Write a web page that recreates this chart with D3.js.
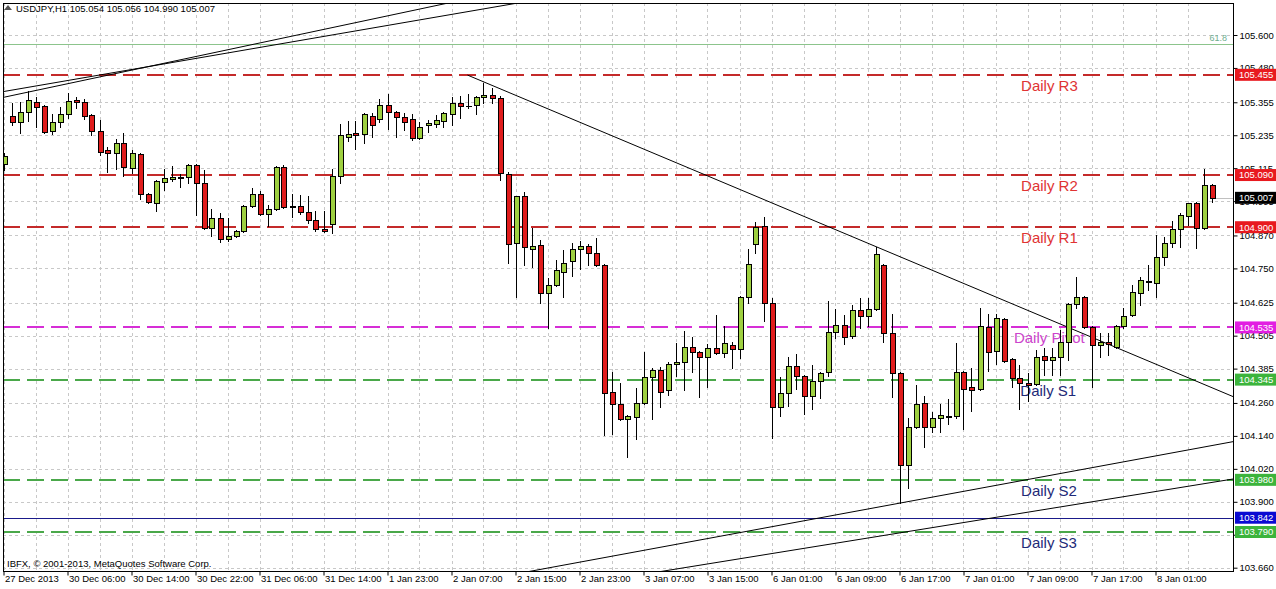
<!DOCTYPE html>
<html><head><meta charset="utf-8">
<script src="https://cdn.jsdelivr.net/npm/d3@7"></script>
<style>body{margin:0;background:#fff}svg{display:block}</style>
</head><body><svg id="c" width="1276" height="589"></svg>
<script>
// ---- data ----
const symbolTitle = "USDJPY,H1  105.054 105.056 104.990 105.007";
const copyright = "IBFX, \u00A9 2001-2013, MetaQuotes Software Corp.";
// [open, high, low, close] per hourly bar, bar 0 = 27 Dec 2013 22:00
const candles = [
[105.130,105.170,105.108,105.159],[105.305,105.352,105.272,105.283],[105.283,105.356,105.243,105.320],[105.320,105.396,105.287,105.363],
[105.356,105.374,105.265,105.338],[105.341,105.345,105.243,105.247],[105.251,105.312,105.240,105.283],[105.283,105.338,105.265,105.312],
[105.312,105.389,105.298,105.360],[105.363,105.374,105.334,105.356],[105.356,105.367,105.294,105.305],[105.309,105.312,105.236,105.251],
[105.251,105.291,105.163,105.174],[105.181,105.192,105.101,105.170],[105.170,105.221,105.112,105.207],[105.207,105.243,105.087,105.119],
[105.116,105.181,105.097,105.170],[105.167,105.170,105.003,105.021],[105.021,105.025,104.988,104.992],[104.988,105.072,104.959,105.068],
[105.065,105.112,105.036,105.079],[105.076,105.123,105.068,105.083],[105.083,105.094,105.046,105.081],[105.083,105.130,105.061,105.127],
[105.127,105.130,104.945,105.061],[105.061,105.108,104.894,104.897],[104.897,104.966,104.868,104.934],[104.934,104.952,104.846,104.857],
[104.857,104.934,104.850,104.868],[104.868,104.890,104.864,104.886],[104.886,104.981,104.882,104.977],[104.977,105.043,104.974,105.021],
[105.021,105.032,104.945,104.948],[104.948,104.981,104.904,104.966],[104.966,105.123,104.963,105.119],[105.119,105.127,104.970,104.974],
[104.977,105.021,104.937,104.975],[104.977,105.017,104.948,104.955],[104.955,105.014,104.915,104.926],[104.926,104.959,104.886,104.894],
[104.894,104.959,104.882,104.886],[104.912,105.112,104.879,105.087],[105.087,105.276,105.061,105.236],[105.229,105.287,105.214,105.240],
[105.243,105.287,105.185,105.236],[105.240,105.316,105.207,105.312],[105.305,105.316,105.229,105.272],[105.294,105.367,105.283,105.345],
[105.345,105.385,105.258,105.320],[105.320,105.322,105.229,105.301],[105.301,105.316,105.254,105.283],[105.294,105.312,105.218,105.225],
[105.225,105.283,105.221,105.265],[105.272,105.291,105.247,105.280],[105.276,105.309,105.265,105.291],[105.287,105.320,105.265,105.316],
[105.312,105.374,105.272,105.352],[105.352,105.378,105.298,105.341],[105.341,105.385,105.334,105.343],[105.345,105.378,105.312,105.374],
[105.374,105.425,105.352,105.381],[105.381,105.407,105.352,105.370],[105.370,105.378,105.072,105.097],[105.094,105.101,104.770,104.839],
[104.842,105.014,104.646,105.014],[105.014,105.028,104.762,104.828],[104.821,104.897,104.755,104.831],[104.835,104.853,104.624,104.660],
[104.660,104.715,104.533,104.690],[104.690,104.781,104.686,104.744],[104.737,104.817,104.646,104.770],[104.777,104.842,104.722,104.821],
[104.821,104.850,104.748,104.831],[104.831,104.839,104.762,104.806],[104.806,104.860,104.759,104.762],[104.762,104.766,104.143,104.296],
[104.300,104.373,104.147,104.256],[104.256,104.333,104.198,104.201],[104.201,104.216,104.063,104.212],[104.209,104.314,104.129,104.260],
[104.260,104.445,104.256,104.355],[104.355,104.387,104.201,104.380],[104.380,104.391,104.245,104.300],[104.307,104.409,104.289,104.402],
[104.402,104.478,104.358,104.409],[104.409,104.522,104.307,104.464],[104.464,104.500,104.373,104.445],[104.445,104.449,104.282,104.427],
[104.427,104.474,104.318,104.460],[104.460,104.580,104.438,104.442],[104.442,104.540,104.427,104.478],[104.471,104.482,104.387,104.456],
[104.456,104.650,104.424,104.646],[104.646,104.821,104.624,104.766],[104.839,104.919,104.806,104.901],[104.904,104.937,104.558,104.624],
[104.624,104.642,104.132,104.245],[104.245,104.355,104.212,104.296],[104.296,104.427,104.249,104.395],[104.395,104.438,104.311,104.358],
[104.358,104.362,104.220,104.285],[104.285,104.398,104.238,104.340],[104.340,104.373,104.278,104.369],[104.373,104.631,104.358,104.518],
[104.518,104.602,104.496,104.544],[104.544,104.580,104.474,104.500],[104.503,104.617,104.496,104.598],[104.598,104.642,104.533,104.577],
[104.577,104.642,104.540,104.602],[104.602,104.828,104.598,104.802],[104.762,104.766,104.482,104.514],[104.514,104.584,104.282,104.369],
[104.369,104.373,103.896,104.033],[104.033,104.205,103.950,104.172],[104.172,104.325,104.169,104.256],[104.260,104.285,104.100,104.172],
[104.172,104.227,104.154,104.205],[104.205,104.256,104.154,104.216],[104.209,104.274,104.183,104.212],[104.212,104.478,104.205,104.373],
[104.373,104.376,104.165,104.311],[104.318,104.387,104.230,104.307],[104.311,104.606,104.307,104.540],[104.536,104.584,104.376,104.445],
[104.449,104.584,104.402,104.569],[104.566,104.569,104.409,104.413],[104.420,104.424,104.318,104.351],[104.351,104.398,104.238,104.333],
[104.333,104.369,104.267,104.325],[104.329,104.453,104.325,104.427],[104.431,104.460,104.362,104.416],[104.416,104.460,104.362,104.427],
[104.427,104.526,104.362,104.482],[104.482,104.624,104.416,104.620],[104.620,104.719,104.606,104.646],[104.646,104.650,104.533,104.536],
[104.536,104.540,104.318,104.471],[104.471,104.514,104.427,104.482],[104.482,104.514,104.435,104.474],[104.464,104.544,104.460,104.540],
[104.540,104.606,104.533,104.577],[104.580,104.690,104.577,104.664],[104.660,104.719,104.617,104.708],[104.704,104.762,104.671,104.700],
[104.697,104.871,104.646,104.792],[104.792,104.864,104.762,104.842],[104.842,104.923,104.828,104.894],[104.894,104.952,104.828,104.945],
[104.941,104.988,104.908,104.988],[104.988,104.990,104.824,104.897],[104.897,105.112,104.894,105.054],[105.054,105.056,104.990,105.007]
];
const timeTickIndex = [0,8,16,24,32,40,48,56,64,72,80,88,96,104,112,120,128,136,144];
const timeTickLabels = ["27 Dec 2013","30 Dec 06:00","30 Dec 14:00","30 Dec 22:00","31 Dec 06:00","31 Dec 14:00","1 Jan 23:00","2 Jan 07:00","2 Jan 15:00","2 Jan 23:00","3 Jan 07:00","3 Jan 15:00","6 Jan 01:00","6 Jan 09:00","6 Jan 17:00","7 Jan 01:00","7 Jan 09:00","7 Jan 17:00","8 Jan 01:00"];
const priceTicks = [105.600,105.480,105.355,105.235,105.115,104.995,104.870,104.750,104.625,104.505,104.385,104.260,104.140,104.020,103.900,103.780,103.660];
const levelNames = ["Daily R3","Daily R2","Daily R1","Daily Pivot","Daily S1","Daily S2","Daily S3"];
const levelValues = [105.455,105.090,104.900,104.535,104.345,103.980,103.790];
const levelKinds = ["R","R","R","P","S","S","S"];
const levelTextBar = [127.2,127.2,127.2,126.3,127.1,127.2,127.2];
const blueLevel = 103.842;
const fiboLevel = 105.567, fiboLabel = "61.8";
const bidPrice = 105.007;
// trendlines: [barIndex, price] anchor pairs
const trendLines = [
  {a:[0,105.394], b:[60,105.695], from:-2, to:160},
  {a:[0,105.373], b:[50,105.682], from:-2, to:160},
  {a:[58,105.454], b:[109,104.830], from:58, to:160},
  {a:[112,103.895], b:[153.69,104.119], from:40, to:160},
  {a:[122.69,103.837], b:[153.69,103.983], from:40, to:160}
];

// ---- layout ----
const L=3, R=1233, T=3, B=571;
const svg = d3.select("#c");
const x = d3.scaleLinear().domain([0,151]).range([3.5,1211.5]);
const y = d3.scaleLinear().domain([105.6,103.66]).range([35,567.7]);
const FONT = "'Liberation Sans', Arial, sans-serif";
const col = {R:"#c42a2a", P:"#d62ed6", S:"#4aa84a"};
const boxCol = {R:"#e8191f", P:"#e21ee2", S:"#3cb43c"};
const txtCol = {R:"#e03333", P:"#cc44cc", S:"#1e2a78"};

svg.append("rect").attr("width",1276).attr("height",589).attr("fill","#fff");
svg.append("defs").append("clipPath").attr("id","pc").append("rect")
  .attr("x",L).attr("y",T).attr("width",R-L).attr("height",B-T);
const g = svg.append("g").attr("clip-path","url(#pc)");

// grid
const vg = d3.range(0,152,4);
g.selectAll(".vg").data(vg).join("line")
  .attr("x1",d=>Math.round(x(d))+0.5).attr("x2",d=>Math.round(x(d))+0.5)
  .attr("y1",T).attr("y2",B).attr("stroke","#c8c8c8").attr("stroke-dasharray","3,3");
g.selectAll(".hg").data(priceTicks).join("line")
  .attr("x1",L).attr("x2",R).attr("y1",d=>Math.round(y(d))+0.5).attr("y2",d=>Math.round(y(d))+0.5)
  .attr("stroke","#c8c8c8").attr("stroke-dasharray","3,3");

// fibo line
g.append("line").attr("x1",L).attr("x2",R).attr("y1",Math.round(y(fiboLevel))+0.5).attr("y2",Math.round(y(fiboLevel))+0.5)
  .attr("stroke","#8cc48c");
g.append("text").attr("x",1227).attr("y",y(fiboLevel)-3).attr("text-anchor","end")
  .attr("font-family",FONT).attr("font-size",9).attr("fill","#6fae90").text(fiboLabel);

// level lines
levelValues.forEach((v,i)=>{
  const yy = Math.round(y(v));
  g.append("line").attr("x1",L).attr("x2",R).attr("y1",yy).attr("y2",yy)
    .attr("stroke",col[levelKinds[i]]).attr("stroke-width",2).attr("stroke-dasharray","17,7");
  g.append("text").attr("x",x(levelTextBar[i])).attr("y",yy+16)
    .attr("font-family",FONT).attr("font-size",15).attr("fill",txtCol[levelKinds[i]]).text(levelNames[i]);
});
g.append("line").attr("x1",L).attr("x2",R).attr("y1",Math.round(y(blueLevel))+0.5).attr("y2",Math.round(y(blueLevel))+0.5)
  .attr("stroke","#1a1a8a");

// trendlines
trendLines.forEach(t=>{
  const s = (t.b[1]-t.a[1])/(t.b[0]-t.a[0]);
  const p = i => t.a[1] + s*(i-t.a[0]);
  g.append("line").attr("x1",x(t.from)).attr("y1",y(p(t.from))).attr("x2",x(t.to)).attr("y2",y(p(t.to)))
    .attr("stroke","#000").attr("stroke-width",1);
});

// short bid line from last bar to axis
g.append("line").attr("x1",x(candles.length-1)+4).attr("x2",R).attr("y1",Math.round(y(bidPrice))+0.5).attr("y2",Math.round(y(bidPrice))+0.5)
  .attr("stroke","#c0c0c0");

// candles
const cg = g.append("g");
candles.forEach((c,i)=>{
  const [o,h,l,cl] = c;
  const cx = Math.round(x(i))+0.5;
  cg.append("line").attr("x1",cx).attr("x2",cx).attr("y1",Math.round(y(h))).attr("y2",Math.round(y(l))+1).attr("stroke","#000");
  const top = Math.round(y(Math.max(o,cl))), bot = Math.round(y(Math.min(o,cl)));
  if (bot - top < 1) {
    cg.append("line").attr("x1",cx-2.5).attr("x2",cx+3.5).attr("y1",top+0.5).attr("y2",top+0.5).attr("stroke","#000");
  } else {
    cg.append("rect").attr("x",cx-2).attr("y",top+0.5).attr("width",5).attr("height",bot-top)
      .attr("fill", cl>=o ? "#9ed040" : "#e01c1c").attr("stroke","#000").attr("stroke-width",1);
  }
});

// texts in plot
svg.append("path").attr("d","M4,10 L8,5 L12,10 Z").attr("fill","#555");
svg.append("text").attr("x",16).attr("y",12).attr("font-family",FONT).attr("font-size",9.5).attr("fill","#000").text(symbolTitle);
svg.append("text").attr("x",7).attr("y",567).attr("font-family",FONT).attr("font-size",9.5).attr("fill","#000").text(copyright);

// border
svg.append("rect").attr("x",L+0.5).attr("y",T+0.5).attr("width",R-L).attr("height",B-T)
  .attr("fill","none").attr("stroke","#000");

// y axis (right)
const ya = d3.axisRight(y).tickValues(priceTicks).tickSize(4).tickSizeOuter(0).tickFormat(d3.format(".3f"));
const yg = svg.append("g").attr("transform",`translate(${R+0.5},0)`).call(ya);
yg.select(".domain").remove();
yg.selectAll("text").attr("font-family",FONT).attr("font-size",9.5).attr("fill","#000").attr("x",6);
yg.selectAll("line").attr("stroke","#000");

// x axis (bottom)
const xa = d3.axisBottom(x).tickValues(timeTickIndex).tickSize(4).tickSizeOuter(0)
  .tickFormat((d,i)=>timeTickLabels[i]);
const xg = svg.append("g").attr("transform",`translate(0,${B+0.5})`).call(xa);
xg.select(".domain").remove();
xg.selectAll("text").attr("font-family",FONT).attr("font-size",9.5).attr("fill","#000")
  .attr("text-anchor","start").attr("x",1).attr("y",4).attr("dy","0.71em");
xg.selectAll("line").attr("stroke","#000");

// price boxes on the axis
function box(v, fill){
  const yy = y(v);
  svg.append("rect").attr("x",R+2).attr("y",yy-6).attr("width",1276-R-2).attr("height",12).attr("fill",fill);
  svg.append("text").attr("x",R+6).attr("y",yy).attr("dy","0.35em").attr("font-family",FONT).attr("font-size",9.5)
    .attr("fill","#fff").text(d3.format(".3f")(v));
}
levelValues.forEach((v,i)=>box(v, boxCol[levelKinds[i]]));
box(blueLevel, "#0a0ad2");
box(bidPrice, "#000");
</script></body></html>
